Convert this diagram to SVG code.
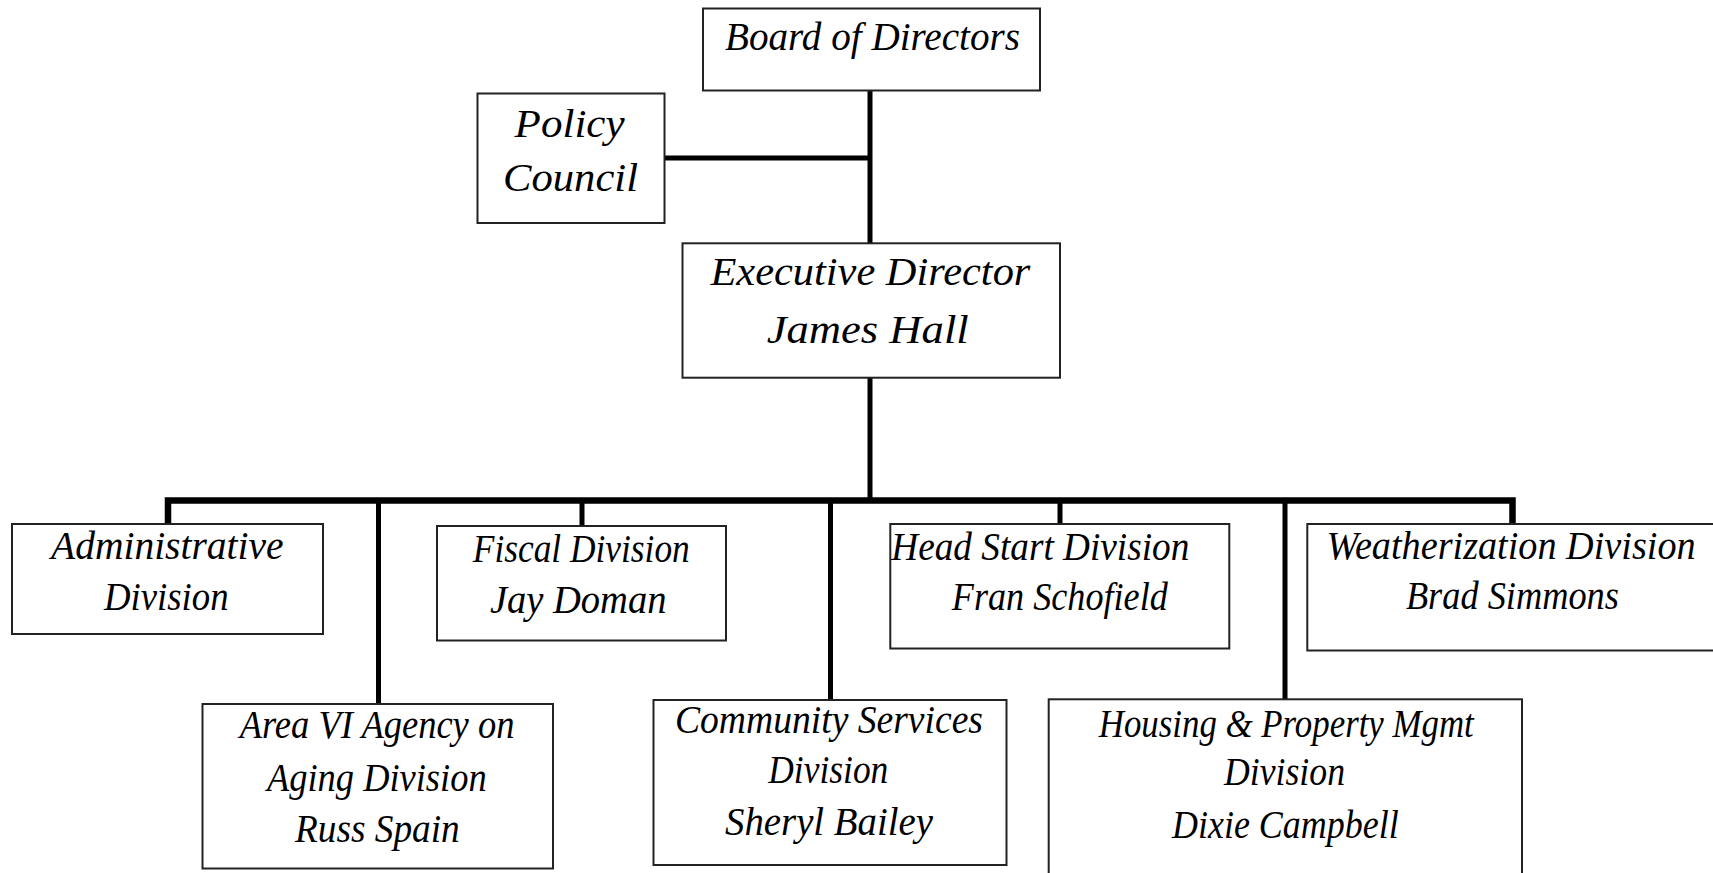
<svg xmlns="http://www.w3.org/2000/svg" width="1713" height="873" viewBox="0 0 1713 873">
<style>
.box{fill:#fff;stroke:#222;stroke-width:2}
.t{font-family:"Liberation Serif","Times New Roman",serif;font-style:italic;font-size:41px;fill:#000}
.c{fill:none;stroke:#000;stroke-width:5;stroke-linecap:butt;stroke-linejoin:miter}
.bus{fill:none;stroke:#000;stroke-width:6.5;stroke-linejoin:miter}
</style>
<rect width="1713" height="873" fill="#fff"/>
<g id="connectors">
<line class="c" x1="870" y1="90" x2="870" y2="243"/>
<line class="c" x1="664" y1="158" x2="870" y2="158" stroke-width="5.5"/>
<line class="c" x1="870" y1="378" x2="870" y2="501"/>
<path class="bus" d="M168 524 V500.5 H1512.5 V524"/>
<line class="c" x1="378.5" y1="500" x2="378.5" y2="704"/>
<line class="c" x1="582" y1="500" x2="582" y2="526"/>
<line class="c" x1="830.5" y1="500" x2="830.5" y2="700"/>
<line class="c" x1="1060" y1="500" x2="1060" y2="524"/>
<line class="c" x1="1285" y1="500" x2="1285" y2="699"/>
</g>
<g id="board">
<rect class="box" x="703" y="8.5" width="337" height="82"/>
<text class="t" x="725" y="50" textLength="295" lengthAdjust="spacingAndGlyphs">Board of Directors</text>
</g>
<g id="policy">
<rect class="box" x="477.5" y="93.5" width="187" height="129.5"/>
<text class="t" x="514.6" y="137" textLength="110" lengthAdjust="spacingAndGlyphs">Policy</text>
<text class="t" x="503" y="191" textLength="135" lengthAdjust="spacingAndGlyphs">Council</text>
</g>
<g id="executive">
<rect class="box" x="682.5" y="243.3" width="377.5" height="134.4"/>
<text class="t" x="710.4" y="285" textLength="320" lengthAdjust="spacingAndGlyphs">Executive Director</text>
<text class="t" x="766.7" y="343" textLength="202" lengthAdjust="spacingAndGlyphs">James Hall</text>
</g>
<g id="administrative">
<rect class="box" x="12" y="524" width="311" height="110"/>
<text class="t" x="51" y="559" textLength="232.6" lengthAdjust="spacingAndGlyphs">Administrative</text>
<text class="t" x="104" y="610" textLength="124.6" lengthAdjust="spacingAndGlyphs">Division</text>
</g>
<g id="fiscal">
<rect class="box" x="437" y="526" width="289" height="114.5"/>
<text class="t" x="472.8" y="561.7" textLength="217" lengthAdjust="spacingAndGlyphs">Fiscal Division</text>
<text class="t" x="489.9" y="612.7" textLength="176.6" lengthAdjust="spacingAndGlyphs">Jay Doman</text>
</g>
<g id="headstart">
<rect class="box" x="890.3" y="524" width="339" height="124.5"/>
<text class="t" x="891.3" y="560" textLength="298" lengthAdjust="spacingAndGlyphs">Head Start Division</text>
<text class="t" x="951.8" y="610" textLength="216" lengthAdjust="spacingAndGlyphs">Fran Schofield</text>
</g>
<g id="weatherization">
<rect class="box" x="1307.3" y="524" width="406.7" height="126.5"/>
<text class="t" x="1326.6" y="559" textLength="369" lengthAdjust="spacingAndGlyphs">Weatherization Division</text>
<text class="t" x="1405.9" y="609" textLength="213" lengthAdjust="spacingAndGlyphs">Brad Simmons</text>
</g>
<g id="areavi">
<rect class="box" x="202.5" y="704" width="350.5" height="164.5"/>
<text class="t" x="239.7" y="738.3" textLength="274.8" lengthAdjust="spacingAndGlyphs">Area VI Agency on</text>
<text class="t" x="267" y="790.7" textLength="219.6" lengthAdjust="spacingAndGlyphs">Aging Division</text>
<text class="t" x="295" y="841.7" textLength="164.7" lengthAdjust="spacingAndGlyphs">Russ Spain</text>
</g>
<g id="community">
<rect class="box" x="653.5" y="700" width="353" height="165"/>
<text class="t" x="675" y="733.3" textLength="308" lengthAdjust="spacingAndGlyphs">Community Services</text>
<text class="t" x="768.3" y="783.3" textLength="120" lengthAdjust="spacingAndGlyphs">Division</text>
<text class="t" x="725" y="835" textLength="208" lengthAdjust="spacingAndGlyphs">Sheryl Bailey</text>
</g>
<g id="housing">
<rect class="box" x="1048.7" y="699.3" width="473.3" height="190"/>
<text class="t" x="1098.8" y="736.7" textLength="375" lengthAdjust="spacingAndGlyphs">Housing &amp; Property Mgmt</text>
<text class="t" x="1224" y="785" textLength="121" lengthAdjust="spacingAndGlyphs">Division</text>
<text class="t" x="1172" y="838.3" textLength="226.7" lengthAdjust="spacingAndGlyphs">Dixie Campbell</text>
</g>
</svg>
